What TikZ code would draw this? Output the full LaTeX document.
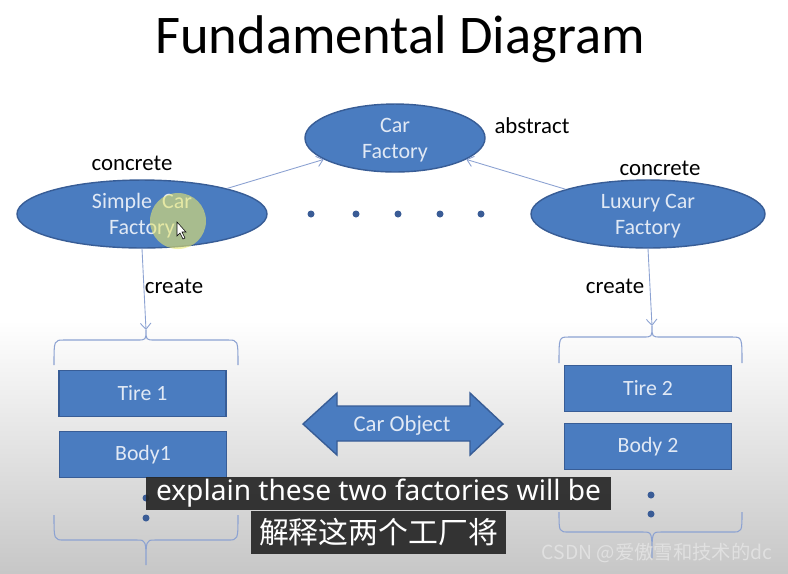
\documentclass[tikz,border=0pt]{standalone}
\usepackage{fontspec}
\setmainfont{Carlito}
\newfontfamily\subfont{Noto Sans}
\newfontfamily\cjk{Noto Sans CJK SC}
\usetikzlibrary{shapes.geometric,arrows.meta}
\definecolor{shapefill}{RGB}{74,124,192}
\definecolor{shapeline}{RGB}{56,93,150}
\definecolor{shapetext}{RGB}{225,233,245}
\definecolor{linkc}{RGB}{140,162,210}
\definecolor{dotc}{RGB}{58,92,150}
\definecolor{subbg}{RGB}{38,38,38}
\definecolor{glow}{RGB}{232,232,110}
\tikzset{
  factory/.style={ellipse, draw=shapeline, line width=0.8pt, fill=shapefill, text=shapetext,
    inner sep=0pt, align=center, font=\fontsize{12.5}{14.8}\selectfont},
  part/.style={rectangle, draw=shapeline, line width=0.8pt, fill=shapefill, text=shapetext,
    minimum width=33.4mm, minimum height=9.2mm, font=\fontsize{12.4}{14}\selectfont},
  note/.style={font=\fontsize{13}{15}\selectfont, anchor=base},
  link/.style={draw=linkc, ->, line width=0.5pt},
  subline/.style={fill=subbg, fill opacity=0.92, text opacity=1, text=white, inner sep=0pt},
  >={Straight Barb[length=3.5pt,width=6pt]}
}
\begin{document}
\begin{tikzpicture}[x=0.2mm,y=-0.2mm]
        % page
            \useasboundingbox (0,0) rectangle (788,573);
            \fill[white] (0,0) rectangle (788,573);
            \shade[top color=white, bottom color=black!22] (0,320) rectangle (788,573);
            \node[anchor=base, font=\fontsize{31}{36}\selectfont] (title) at (400,53) {Fundamental Diagram};
        % factories
            \node[factory, minimum width=36mm, minimum height=11.2mm] (carf) at (395,138) {\rule{0pt}{3.7mm}Car\\Factory};
            \node[factory, minimum width=50mm, minimum height=12.4mm] (simple) at (142,214) {\rule{0pt}{3.7mm}Simple~ Car\\Factory};
            \node[factory, minimum width=46.8mm, minimum height=12mm] (luxury) at (648,214) {\rule{0pt}{3.7mm}Luxury Car\\Factory};
            \node[note] (abs) at (532,133) {abstract};
            \node[note] (conl) at (132,170) {concrete};
            \node[note] (conr) at (660,175) {concrete};
            \foreach \x in {311,356,398,440,481}{
                \fill[dotc] (\x,214) circle (0.7mm);
            }
            \draw[link] (simple) -- (carf);
            \draw[link] (luxury) -- (carf);
        % products
            \coordinate (ltip) at (146,330);
            \coordinate (rtip) at (652,326);
            \draw[link] (simple.south) -- (ltip);
            \draw[link] (luxury.south) -- (rtip);
            \node[note] (crl) at (174,293) {create};
            \node[note] (crr) at (615,293) {create};
            \foreach \xa/\xc/\xb/\ys/\yb/\yt in {54/146/238/365/340/330, 54/146/238/515/540/565,
                559/652/742/363/337/326, 559/652/742/512/532/558}{
                \draw[linkc, line width=0.6pt] (\xa,\ys) .. controls (\xa,\yb) .. ({\xa+10},\yb) -- ({\xc-9},\yb)
                    .. controls (\xc,\yb) .. (\xc,\yt) .. controls (\xc,\yb) .. ({\xc+9},\yb)
                    -- ({\xb-10},\yb) .. controls (\xb,\yb) .. (\xb,\ys);
            }
            \node[part] (tire1) at (142.5,393.5) {Tire 1};
            \node[part] (body1) at (143,454.5) {Body1};
            \node[part] (tire2) at (648,388.5) {Tire 2};
            \node[part] (body2) at (648,446.5) {Body 2};
            \foreach \x/\y in {146/498,146/518,651/495,651/514}{
                \fill[dotc] (\x,\y) circle (0.7mm);
            }
        % car object
            \fill[shapefill, draw=shapeline, line width=0.8pt] (303,424) -- (337,393) -- (337,406) -- (470,406)
                -- (470,393) -- (503,424) -- (470,455) -- (470,441) -- (337,441) -- (337,455) -- cycle;
            \node[text=shapetext, font=\fontsize{12.9}{15}\selectfont] (carobj) at (402,426) {Car Object};
        % pointer
            \fill[glow, opacity=0.6] (178,221) circle (5.6mm);
            \filldraw[fill=white, draw=black, line width=0.3pt] (177,222) -- (177,236) -- (180,233) -- (183,239)
                -- (185,238) -- (182,232) -- (186,232) -- cycle;
        % subtitles
            \node[subline, minimum width=93mm, minimum height=6.6mm, font=\subfont\fontsize{16}{18}\selectfont] (sub1) at (378.5,493.5) {explain these two factories will be};
            \node[subline, minimum width=51mm, minimum height=8.6mm, font=\cjk\fontsize{17}{19}\selectfont] (sub2) at (378.5,532.5) {解释这两个工厂将};
            \node[text=white!88!black, font=\cjk\fontsize{11}{13}\selectfont] (mark) at (657,553) {CSDN @爱傲雪和技术的dc};
        \end{tikzpicture}
\end{document}
